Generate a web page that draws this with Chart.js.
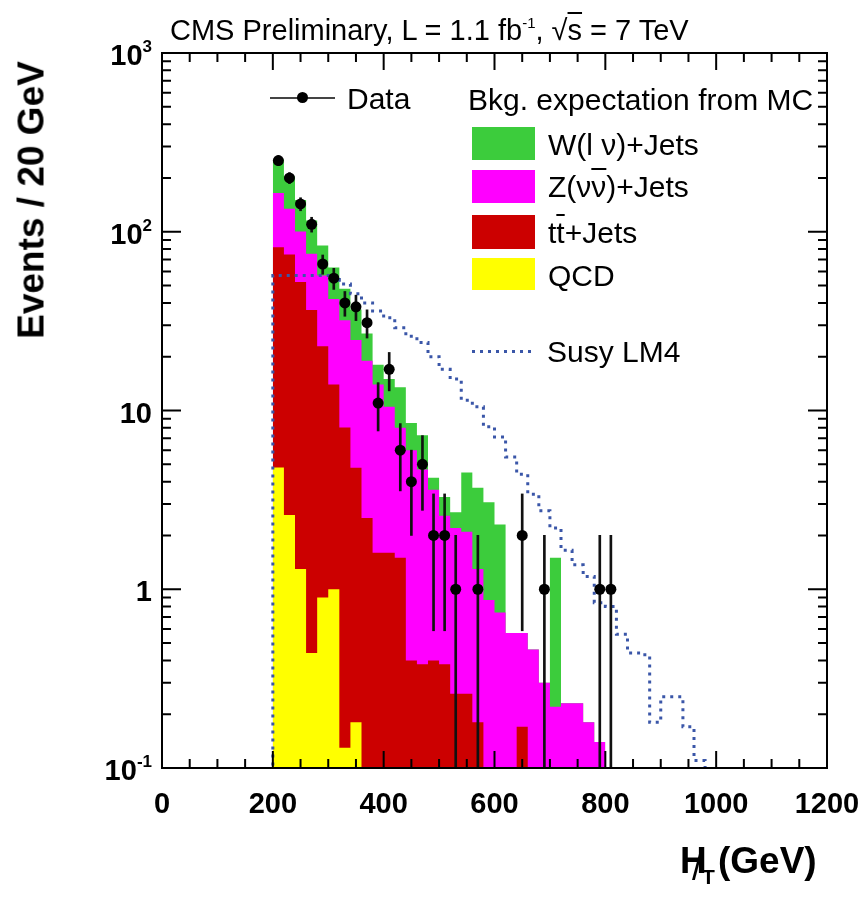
<!DOCTYPE html>
<html>
<head>
<meta charset="utf-8">
<title>Missing HT - CMS Preliminary</title>
<script src="https://cdn.jsdelivr.net/npm/chart.js@4.4.0/dist/chart.umd.min.js"></script>
<style>
  body { margin: 0; background: #fff; }
  #wrap { position: relative; width: 864px; height: 903px; font-family: "Liberation Sans", Arial, Helvetica, sans-serif; color: #000; }
  canvas { position: absolute; left: 0; top: 0; }
  .txt { position: absolute; white-space: nowrap; line-height: 1; }
  .leg { font-size: 30px; }
  .sw { position: absolute; left: 472px; width: 63px; }
  .ov { text-decoration: overline; text-decoration-thickness: 2px; }
  .xlab { position: absolute; width: 100px; text-align: center; font-size: 29px; font-weight: bold; line-height: 1; }
  .ylab { position: absolute; right: 712px; text-align: right; font-size: 29px; font-weight: bold; line-height: 1; white-space: nowrap; }
  .ylab sup { font-size: 17px; vertical-align: 13px; line-height: 0; }
</style>
</head>
<body>
<div id="wrap">
  <canvas id="mht" width="864" height="903"></canvas>

  <div class="txt" style="left:170px; top:16px; font-size:29px;">CMS Preliminary, L = 1.1 fb<sup style="font-size:15px; vertical-align:12px; line-height:0;">-1</sup>, √<span class="ov">s</span> = 7 TeV</div>

  <!-- legend -->
  <div style="position:absolute; left:270px; top:97px; width:65px; height:2px; background:#444;"></div>
  <div style="position:absolute; left:297px; top:92px; width:11px; height:11px; border-radius:50%; background:#000;"></div>
  <div class="txt leg" style="left:347px; top:84px;">Data</div>
  <div class="txt leg" style="left:468px; top:85px;">Bkg. expectation from MC</div>

  <div class="sw" style="top:127px; height:33px; background:#3ccc3c;"></div>
  <div class="txt leg" style="left:548px; top:130px;">W(l ν)+Jets</div>
  <div class="sw" style="top:170px; height:33px; background:#ff00ff;"></div>
  <div class="txt leg" style="left:548px; top:172px;">Z(ν<span class="ov">ν</span>)+Jets</div>
  <div class="sw" style="top:215px; height:34px; background:#cc0000;"></div>
  <div class="txt leg" style="left:548px; top:218px;">t<span class="ov">t</span>+Jets</div>
  <div class="sw" style="top:258px; height:32px; background:#ffff00;"></div>
  <div class="txt leg" style="left:548px; top:261px;">QCD</div>

  <div style="position:absolute; left:472px; top:350px; width:62px; height:3px; background:repeating-linear-gradient(to right, #3a56a8 0 3px, transparent 3px 8px);"></div>
  <div class="txt leg" style="left:547px; top:337px;">Susy LM4</div>

  <!-- axis titles -->
  <div class="txt" style="left:31px; top:200px; font-size:37px; font-weight:bold; transform:translate(-50%, -50%) rotate(-90deg);">Events / 20 GeV</div>
  <div class="txt" style="left:680px; top:842px; font-size:37px; font-weight:bold; width:160px; height:50px;">
    <span style="position:absolute; left:0; top:0;">H</span>
    <span style="position:absolute; left:12px; top:8px; font-size:36px; font-weight:normal;">/</span>
    <span style="position:absolute; left:22px; top:24px; font-size:21px;">T</span>
    <span style="position:absolute; left:38px; top:0;">(GeV)</span>
  </div>
</div>

<script>
// HT-miss distribution, 20 GeV bins
const BIN = 20;
const bkgStart = 200;   // first background bin: 200-220 GeV
const susyStart = 200;

// background expectation per bin (events), 200-800 GeV
const wJets  = [90, 70, 50, 40, 27, 21, 16, 12, 8, 4, 4.5, 5.5, 2.5, 2.6, 0.6, 0.7, 0.5, 2.4, 2.4, 2.2, 1.56, 0, 0, 0, 0, 1.28, 0, 0, 0, 0];
const zInv   = [83, 60, 48, 39, 34, 28, 24, 20, 16.5, 12.4, 8.9, 6.5, 5.6, 4.3, 3.2, 2.2, 1.94, 1.84, 1.12, 0.87, 0.74, 0.57, 0.4, 0.46, 0.3, 0.22, 0.23, 0.23, 0.18, 0.14];
const ttJets = [77, 72, 51, 36, 22, 13, 7.9, 4.6, 2.5, 1.6, 1.6, 1.5, 0.4, 0.38, 0.4, 0.38, 0.26, 0.26, 0.18, 0, 0, 0, 0.17, 0, 0, 0, 0, 0, 0, 0];
const qcd    = [4.8, 2.6, 1.3, 0.44, 0.9, 1.0, 0.13, 0.18, 0, 0, 0, 0, 0, 0, 0, 0, 0, 0, 0, 0, 0, 0, 0, 0, 0, 0, 0, 0, 0, 0];

// signal benchmark LM4, 200-1000 GeV
const susyLM4 = [57, 57, 57, 57, 57, 54, 51, 45, 40, 36, 33, 29, 26, 24, 20, 17, 15, 11.4, 10.5, 8.1,
                 7.1, 5.5, 4.4, 3.4, 2.75, 2.2, 1.65, 1.37, 1.18, 0.84, 0.8, 0.56, 0.44, 0.43, 0.18, 0.25, 0.25, 0.17, 0.11, 0];

// observed events at bin centres
const dataCenters = [210, 230, 250, 270, 290, 310, 330, 350, 370, 390, 410, 430, 450, 470, 490, 510, 530, 570, 650, 690, 790, 810];
const dataCounts  = [250, 200, 143, 110, 66, 55, 40, 38, 31, 11, 17, 6, 4, 5, 2, 2, 1, 1, 2, 1, 1, 1];

// axis labels
const xTickValues = [0, 200, 400, 600, 800, 1000, 1200];
const yTickValues = [1000, 100, 10, 1, 0.1];
const yTickLabels = [['10', '3'], ['10', '2'], ['10', ''], ['1', ''], ['10', '-1']];

const FLOOR = 1e-3; // empty bins sit below the visible range

function stack(...parts) {
  return parts[0].map((_, i) => parts.reduce((s, p) => s + p[i], 0));
}

// points for a step histogram, closed down to the floor at both ends
function histPoints(values, start) {
  const pts = [{ x: start, y: FLOOR }];
  values.forEach((v, i) => pts.push({ x: start + i * BIN, y: v > 0 ? v : FLOOR }));
  const end = start + values.length * BIN;
  const last = values[values.length - 1];
  pts.push({ x: end, y: last > 0 ? last : FLOOR });
  pts.push({ x: end, y: FLOOR });
  return pts;
}

const qcdTop = qcd;
const ttTop  = stack(qcd, ttJets);
const zTop   = stack(qcd, ttJets, zInv);
const wTop   = stack(qcd, ttJets, zInv, wJets);

const dataPts = dataCenters.map((x, i) => ({ x, y: dataCounts[i] }));
const errPts  = dataCenters.map((x, i) => {
  const n = dataCounts[i], e = Math.sqrt(n);
  return { x, y: [Math.max(n - e, FLOOR), n + e] };
});

function histSet(label, values, color) {
  return {
    type: 'line', label, data: histPoints(values, bkgStart),
    stepped: true, borderWidth: 0, pointRadius: 0,
    backgroundColor: color, fill: 'start'
  };
}

// frame with ROOT-style inward ticks on all four sides
const rootFrame = {
  id: 'rootFrame',
  afterDraw(chart) {
    const { ctx, chartArea: a, scales: { x, y } } = chart;
    ctx.save();
    ctx.strokeStyle = '#000';
    ctx.lineWidth = 2;
    ctx.beginPath();
    for (let v = 0; v <= 1200; v += 50) {
      const px = x.getPixelForValue(v);
      const len = v % 200 === 0 ? 17 : 9;
      ctx.moveTo(px, a.bottom); ctx.lineTo(px, a.bottom - len);
      ctx.moveTo(px, a.top); ctx.lineTo(px, a.top + len);
    }
    for (let d = -1; d <= 3; d++) {
      for (let k = 1; k <= 9; k++) {
        const v = k * Math.pow(10, d);
        if (v > 1000.5) break;
        const py = y.getPixelForValue(v);
        const len = k === 1 ? 19 : 9;
        ctx.moveTo(a.left, py); ctx.lineTo(a.left + len, py);
        ctx.moveTo(a.right, py); ctx.lineTo(a.right - len, py);
      }
    }
    ctx.stroke();
    ctx.strokeRect(a.left, a.top, a.width, a.height);
    ctx.restore();
  }
};

const chart = new Chart(document.getElementById('mht'), {
  type: 'line',
  data: {
    datasets: [
      { type: 'line', label: 'Data', data: dataPts, showLine: false,
        pointRadius: 5.5, pointBackgroundColor: '#000', pointBorderWidth: 0 },
      { type: 'bar', label: 'Data errors', data: errPts, backgroundColor: '#111',
        barThickness: 2, borderWidth: 0 },
      { type: 'line', label: 'Susy LM4', data: histPoints(susyLM4, susyStart),
        stepped: true, borderColor: '#3a56a8', borderWidth: 3, borderDash: [3, 5],
        pointRadius: 0, fill: false },
      histSet('QCD', qcdTop, '#ffff00'),
      histSet('tt+Jets', ttTop, '#cc0000'),
      histSet('Z(nunu)+Jets', zTop, '#ff00ff'),
      histSet('W(lnu)+Jets', wTop, '#3ccc3c')
    ]
  },
  options: {
    responsive: false,
    animation: false,
    devicePixelRatio: 1,
    events: [],
    layout: { padding: { left: 162, right: 37, top: 53, bottom: 135 } },
    plugins: { legend: { display: false }, tooltip: { enabled: false } },
    scales: {
      x: { type: 'linear', min: 0, max: 1200, offset: false, display: false },
      y: { type: 'logarithmic', min: 0.1, max: 1000, offset: false, display: false }
    }
  },
  plugins: [rootFrame]
});

// tick labels placed from the chart's scales
const wrap = document.getElementById('wrap');
const area = chart.chartArea;
xTickValues.forEach(v => {
  const el = document.createElement('div');
  el.className = 'xlab';
  el.textContent = String(v);
  el.style.left = (chart.scales.x.getPixelForValue(v) - 50) + 'px';
  el.style.top = (area.bottom + 21) + 'px';
  wrap.appendChild(el);
});
yTickValues.forEach((v, i) => {
  const el = document.createElement('div');
  el.className = 'ylab';
  const [base, exp] = yTickLabels[i];
  el.innerHTML = base + (exp ? '<sup>' + exp + '</sup>' : '');
  el.style.top = (chart.scales.y.getPixelForValue(v) - 12) + 'px';
  wrap.appendChild(el);
});
</script>
</body>
</html>
